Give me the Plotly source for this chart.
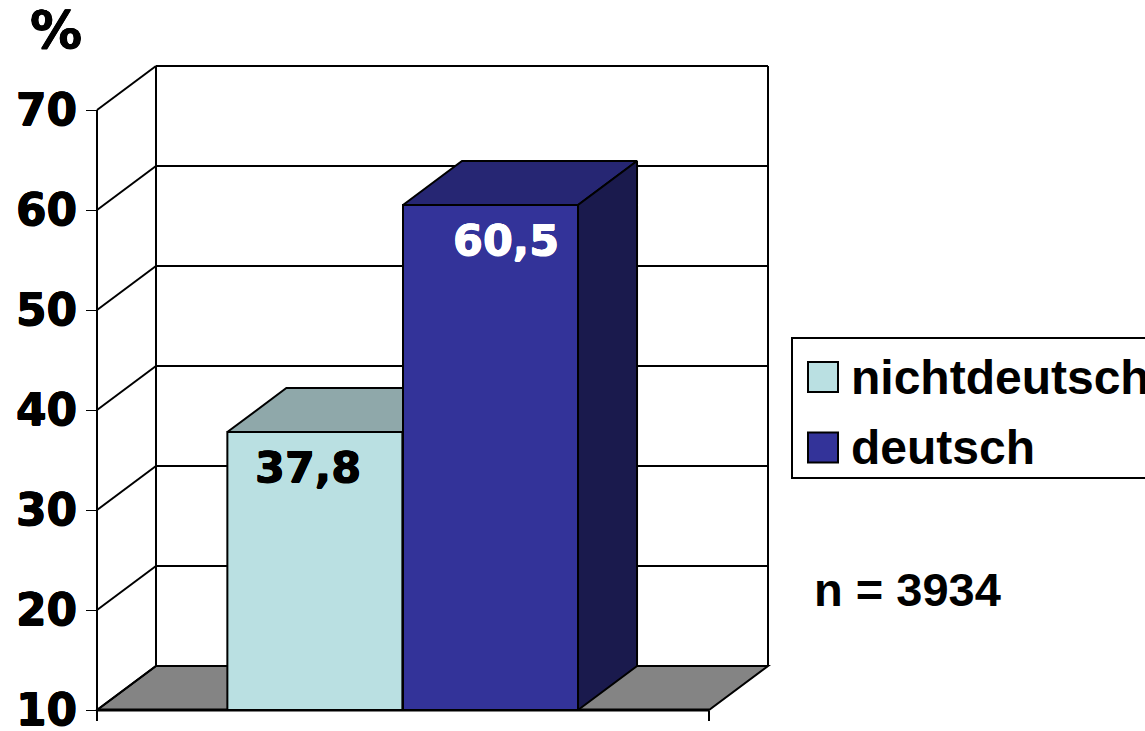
import plotly.graph_objects as go

# values
categories = ["nichtdeutsch", "deutsch"]
values = [37.8, 60.5]
value_labels = ["37,8", "60,5"]
bar_centers = [0.356, 0.643]
y_ticks = [10, 20, 30, 40, 50, 60, 70]

bar_width = 0.286
fill_front = ["#BAE0E2", "#333399"]
fill_top = ["#8FA8AA", "#262673"]
fill_side = "#1A1A4D"
floor_color = "#848484"

W, H = 1145, 731
# front edge of the floor runs over 612 px, one y unit is 10 px
x_range = [-97 / 612, (W - 97) / 612]
y_range = [10 - (H - 710) / 10, 10 + 710 / 10]
depth_x = 59 / 612
depth_y = 4.4
y_min, y_max = y_ticks[0], y_ticks[-1]

VERDANA = "DejaVu Sans"
ARIAL = "Liberation Sans"
# the reference glyphs are heavier than DejaVu Bold
HEAVY = "0.5px 0 0 {0}, -0.5px 0 0 {0}, 0 0.5px 0 {0}, 0 -0.5px 0 {0}"


def line_shape(x0, y0, x1, y1, width=2):
    return dict(type="line", xref="x", yref="y", x0=x0, y0=y0, x1=x1, y1=y1,
                layer="below", line=dict(color="black", width=width))


def poly(xs, ys, color):
    return go.Scatter(x=xs + xs[:1], y=ys + ys[:1], mode="lines", fill="toself",
                      fillcolor=color, line=dict(color="black", width=2),
                      hoverinfo="skip", showlegend=False)


def bold(family, size, color="black", heavy=True):
    f = dict(family=family, size=size, color=color, weight="bold")
    if heavy:
        f["shadow"] = HEAVY.format(color)
    return f


shapes = []
# floor
shapes.append(dict(type="path", xref="x", yref="y", layer="below",
                   fillcolor=floor_color, line=dict(color="black", width=2),
                   path=f"M0,{y_min} L1,{y_min} L{1 + depth_x},{y_min + depth_y} "
                        f"L{depth_x},{y_min + depth_y} Z"))
# left wall, back wall grid
shapes.append(line_shape(0, y_min, 0, y_max))
shapes.append(line_shape(depth_x, y_min + depth_y, depth_x, y_max + depth_y))
shapes.append(line_shape(1 + depth_x, y_min + depth_y, 1 + depth_x, y_max + depth_y))
for t in y_ticks:
    shapes.append(line_shape(0, t, depth_x, t + depth_y))
    shapes.append(line_shape(depth_x, t + depth_y, 1 + depth_x, t + depth_y))
shapes.append(line_shape(0, y_min, 1, y_min, 3))

fig = go.Figure()
fig.add_trace(go.Bar(x=bar_centers, y=[v - y_min for v in values], base=y_min,
                     width=bar_width, marker=dict(color=fill_front, line=dict(color="black", width=2)),
                     hoverinfo="skip", showlegend=False))

# tops and side, the first top stops at the second bar
left0 = bar_centers[0] - bar_width / 2
left1 = bar_centers[1] - bar_width / 2
right1 = bar_centers[1] + bar_width / 2
fig.add_trace(poly([left0, left1, left1, left0 + depth_x],
                   [values[0], values[0], values[0] + depth_y, values[0] + depth_y], fill_top[0]))
fig.add_trace(poly([left1, right1, right1 + depth_x, left1 + depth_x],
                   [values[1], values[1], values[1] + depth_y, values[1] + depth_y], fill_top[1]))
fig.add_trace(poly([right1, right1 + depth_x, right1 + depth_x, right1],
                   [y_min, y_min + depth_y, values[1] + depth_y, values[1]], fill_side))

annotations = [
    dict(x=bar_centers[0], y=values[0], xref="x", yref="y", text=value_labels[0], showarrow=False,
         xshift=-7, yshift=-35, font=bold(VERDANA, 43)),
    dict(x=bar_centers[1], y=values[1], xref="x", yref="y", text=value_labels[1], showarrow=False,
         xshift=15, yshift=-35, font=bold(VERDANA, 43, "white")),
    dict(x=56 / W, y=1 - 30 / H, xref="paper", yref="paper", xanchor="center", yanchor="middle",
         text="%", showarrow=False, font=bold(VERDANA, 52)),
    dict(x=812 / W, y=1 - 589 / H, xref="paper", yref="paper", xanchor="left", yanchor="middle",
         text="n = 3934", showarrow=False, font=bold(ARIAL, 47, heavy=False)),
]

# legend box runs off the right edge like in the picture
shapes.append(dict(type="rect", xref="paper", yref="paper", x0=792 / W, x1=1.01,
                   y0=1 - 478 / H, y1=1 - 338 / H, line=dict(color="black", width=2), fillcolor="white"))
for name, color, yc in zip(categories, fill_front, [377, 447.5]):
    shapes.append(dict(type="rect", xref="paper", yref="paper", x0=808 / W, x1=838 / W,
                       y0=1 - (yc + 15) / H, y1=1 - (yc - 15) / H,
                       line=dict(color="black", width=2), fillcolor=color))
    annotations.append(dict(x=849 / W, y=1 - yc / H, xref="paper", yref="paper", xanchor="left",
                            yanchor="middle", text=name, showarrow=False, font=bold(ARIAL, 48, heavy=False)))

fig.update_layout(
    width=W, height=H, margin=dict(l=0, r=0, t=0, b=0),
    paper_bgcolor="white", plot_bgcolor="white",
    showlegend=False, shapes=shapes, annotations=annotations,
    xaxis=dict(range=x_range, showgrid=False, zeroline=False, showline=False, automargin=False,
               tickmode="array", tickvals=[0, 1], ticks="outside", ticklen=10, tickwidth=2,
               tickcolor="black", showticklabels=False, anchor="free", position=21 / H),
    yaxis=dict(range=y_range, showgrid=False, zeroline=False, showline=False, automargin=False,
               tickmode="array", tickvals=y_ticks, ticks="outside", ticklen=11, tickwidth=1,
               tickcolor="black", tickfont=bold(VERDANA, 44), ticklabeloverflow="allow",
               anchor="free", position=97 / W),
)

# page default margin would push the fixed-size plot off by 8 px
fig.write_html("out.html", config={"displayModeBar": False},
               post_script="document.body.style.margin='0';")
